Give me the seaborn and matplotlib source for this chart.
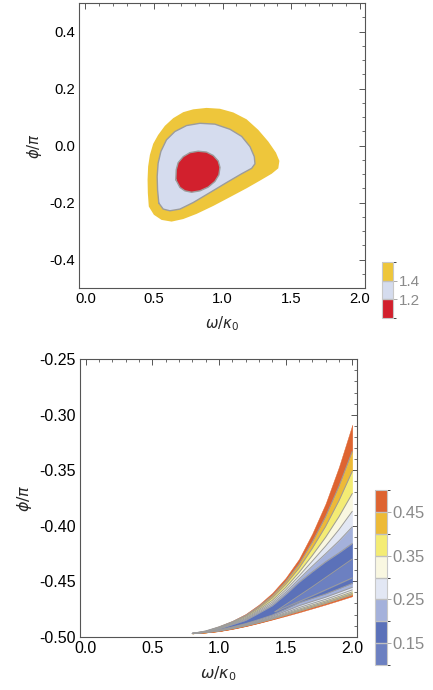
import numpy as np
import matplotlib
matplotlib.use('Agg')
import matplotlib.pyplot as plt
import seaborn as sns
from matplotlib.colors import ListedColormap, BoundaryNorm
from matplotlib.cm import ScalarMappable
from matplotlib.ticker import MultipleLocator, FormatStrFormatter

sns.set_style('white')
plt.rcParams['font.family'] = ['Liberation Sans', 'DejaVu Sans']
plt.rcParams['mathtext.fontset'] = 'dejavusans'

# --- top panel: closed contour outlines (omega/kappa0, phi/pi) ---
outer_x = [0.462, 0.455, 0.453, 0.457, 0.470, 0.494, 0.530, 0.579, 0.640, 0.713, 0.786,
           0.883, 0.981, 1.078, 1.175, 1.260, 1.333, 1.389, 1.414, 1.406, 1.358, 1.273,
           1.175, 1.054, 0.932, 0.810, 0.713, 0.628, 0.555, 0.499]
outer_y = [-0.214, -0.167, -0.120, -0.074, -0.033, 0.006, 0.037, 0.069, 0.096, 0.117, 0.127,
           0.132, 0.129, 0.116, 0.092, 0.055, 0.014, -0.025, -0.054, -0.080, -0.099, -0.123,
           -0.150, -0.181, -0.212, -0.240, -0.258, -0.267, -0.261, -0.243]
mid_x = [0.535, 0.526, 0.523, 0.530, 0.550, 0.591, 0.652, 0.737, 0.835, 0.944, 1.054, 1.139,
         1.200, 1.231, 1.236, 1.212, 1.139, 1.029, 0.908, 0.786, 0.689, 0.616, 0.567]
mid_y = [-0.202, -0.156, -0.109, -0.062, -0.021, 0.020, 0.049, 0.070, 0.078, 0.075, 0.057, 0.032,
         -0.004, -0.039, -0.064, -0.080, -0.099, -0.130, -0.165, -0.200, -0.223, -0.229, -0.223]
inner_x = [0.659, 0.662, 0.676, 0.713, 0.762, 0.822, 0.883, 0.932, 0.968, 0.981, 0.973,
           0.944, 0.895, 0.835, 0.774, 0.725, 0.689]
inner_y = [-0.120, -0.085, -0.060, -0.039, -0.025, -0.020, -0.023, -0.035, -0.054, -0.077,
           -0.103, -0.126, -0.146, -0.159, -0.164, -0.159, -0.147]
top_levels = [1.0, 1.2, 1.4, 1.6]
top_colors = ['#D2202D', '#D5DCEE', '#EEC63B']
top_ticks = [1.2, 1.4]

# --- bottom panel: contour lines sampled at wedge_xs ---
wedge_xs = [0.8, 0.9, 1.0, 1.1, 1.2, 1.3, 1.4, 1.5, 1.6, 1.7, 1.8, 1.9, 2.0]
top_edge = [-0.4970, -0.4945, -0.4905, -0.4857, -0.4795, -0.4710, -0.4605, -0.4470, -0.4300, -0.4070, -0.3800, -0.3470, -0.3090]
up_045 = [-0.4970, -0.4948, -0.4911, -0.4865, -0.4808, -0.4727, -0.4631, -0.4504, -0.4347, -0.4147, -0.3918, -0.3644, -0.3330]
up_040 = [-0.4970, -0.4950, -0.4915, -0.4870, -0.4817, -0.4741, -0.4650, -0.4529, -0.4383, -0.4204, -0.4006, -0.3775, -0.3510]
up_035 = [-0.4970, -0.4952, -0.4919, -0.4876, -0.4828, -0.4755, -0.4672, -0.4557, -0.4422, -0.4268, -0.4104, -0.3919, -0.3710]
up_030 = [-0.4970, -0.4954, -0.4923, -0.4881, -0.4837, -0.4766, -0.4689, -0.4579, -0.4453, -0.4319, -0.4183, -0.4035, -0.3870]
up_025 = [-0.4970, -0.4956, -0.4927, -0.4886, -0.4844, -0.4776, -0.4704, -0.4599, -0.4481, -0.4364, -0.4252, -0.4137, -0.4010]
up_020 = [-0.4970, -0.4957, -0.4930, -0.4891, -0.4852, -0.4787, -0.4720, -0.4620, -0.4510, -0.4415, -0.4325, -0.4245, -0.4160]
lo_020 = [-0.4970, -0.4959, -0.4938, -0.4912, -0.4882, -0.4845, -0.4805, -0.4752, -0.4695, -0.4655, -0.4615, -0.4568, -0.4520]
lo_025 = [-0.4970, -0.4960, -0.4942, -0.4917, -0.4889, -0.4855, -0.4817, -0.4770, -0.4721, -0.4682, -0.4644, -0.4600, -0.4555]
lo_030 = [-0.4970, -0.4960, -0.4944, -0.4920, -0.4894, -0.4861, -0.4825, -0.4783, -0.4738, -0.4700, -0.4663, -0.4621, -0.4578]
lo_035 = [-0.4970, -0.4961, -0.4946, -0.4923, -0.4897, -0.4865, -0.4831, -0.4792, -0.4751, -0.4714, -0.4678, -0.4637, -0.4596]
lo_040 = [-0.4970, -0.4961, -0.4947, -0.4925, -0.4900, -0.4869, -0.4836, -0.4800, -0.4761, -0.4725, -0.4689, -0.4650, -0.4610]
lo_045 = [-0.4970, -0.4962, -0.4949, -0.4927, -0.4902, -0.4873, -0.4841, -0.4806, -0.4771, -0.4735, -0.4700, -0.4661, -0.4622]
bottom_edge = [-0.4970, -0.4962, -0.4950, -0.4930, -0.4905, -0.4876, -0.4845, -0.4813, -0.4780, -0.4745, -0.4710, -0.4673, -0.4635]
# inner region below 0.15
low_x = [1.42, 1.7, 2.0]
low_upper = [-0.4775, -0.4550, -0.4300]
low_lower = [-0.4775, -0.4632, -0.4470]

bot_levels = [0.10, 0.15, 0.20, 0.25, 0.30, 0.35, 0.40, 0.45, 0.50]
bot_colors = ['#6C80C1', '#5B71B9', '#A4B1DB', '#E2E7F4', '#F9F7E1', '#F4EC74', '#EDBA37', '#DE6431']
bot_ticks = [0.15, 0.25, 0.35, 0.45]

line_gray = '#9c9c9c'
frame_col = '#555555'

fig = plt.figure(figsize=(4.33, 6.9), dpi=100)
ax1 = fig.add_axes([0.1824, 0.5826, 0.6605, 0.4130])
ax2 = fig.add_axes([0.1848, 0.0772, 0.6404, 0.4021])
cax1 = fig.add_axes([0.882, 0.5391, 0.0254, 0.0812])
cax2 = fig.add_axes([0.866, 0.0362, 0.0277, 0.2536])

# top contours
ax1.fill(outer_x, outer_y, color=top_colors[2], lw=0)
ax1.fill(mid_x, mid_y, color=top_colors[1], lw=0)
ax1.fill(inner_x, inner_y, color=top_colors[0], lw=0)
for xs, ys in [(mid_x, mid_y), (inner_x, inner_y)]:
    ax1.plot(xs + xs[:1], ys + ys[:1], color=line_gray, lw=1.0)

ax1.set_xlim(-0.047, 2.038)
ax1.set_ylim(-0.5, 0.5)
ax1.xaxis.set_major_locator(MultipleLocator(0.5))
ax1.xaxis.set_minor_locator(MultipleLocator(0.1))
ax1.yaxis.set_major_locator(MultipleLocator(0.2))
ax1.yaxis.set_minor_locator(MultipleLocator(0.05))
ax1.xaxis.set_major_formatter(FormatStrFormatter('%.1f'))
ax1.yaxis.set_major_formatter(FormatStrFormatter('%.1f'))

# bottom contours
bands = [(top_edge, up_045, bot_colors[7]), (up_045, up_040, bot_colors[6]),
         (up_040, up_035, bot_colors[5]), (up_035, up_030, bot_colors[4]),
         (up_030, up_025, bot_colors[3]), (up_025, up_020, bot_colors[2]),
         (up_020, lo_020, bot_colors[1]), (lo_020, lo_025, bot_colors[2]),
         (lo_025, lo_030, bot_colors[3]), (lo_030, lo_035, bot_colors[4]),
         (lo_035, lo_040, bot_colors[5]), (lo_040, lo_045, bot_colors[6]),
         (lo_045, bottom_edge, bot_colors[7])]
for hi, lo, c in bands:
    ax2.fill_between(wedge_xs, hi, lo, color=c, lw=0.3, edgecolor=c)
ax2.fill_between(low_x, low_upper, low_lower, color=bot_colors[0], lw=0.3, edgecolor=bot_colors[0])

for ys in [up_045, up_040, up_035, up_030, up_025, up_020,
           lo_020, lo_025, lo_030, lo_035, lo_040, lo_045]:
    sns.lineplot(x=wedge_xs, y=ys, ax=ax2, color=line_gray, lw=0.7, sort=False, estimator=None)
sns.lineplot(x=low_x, y=low_upper, ax=ax2, color=line_gray, lw=0.7, sort=False, estimator=None)
sns.lineplot(x=low_x, y=low_lower, ax=ax2, color=line_gray, lw=0.7, sort=False, estimator=None)

ax2.set_xlim(-0.043, 2.038)
ax2.set_ylim(-0.5, -0.25)
ax2.xaxis.set_major_locator(MultipleLocator(0.5))
ax2.xaxis.set_minor_locator(MultipleLocator(0.1))
ax2.yaxis.set_major_locator(MultipleLocator(0.05))
ax2.yaxis.set_minor_locator(MultipleLocator(0.01))
ax2.xaxis.set_major_formatter(FormatStrFormatter('%.1f'))
ax2.yaxis.set_major_formatter(FormatStrFormatter('%.2f'))

for ax, fs in ((ax1, 10.7), (ax2, 11.5)):
    ax.set_xlabel(r'$\omega/\kappa_0$', fontsize=fs, labelpad=6)
    ax.set_ylabel(r'$\phi/\pi$', fontsize=fs, labelpad=4)
    ax.tick_params(which='both', direction='in', top=True, right=True,
                   color=frame_col, labelsize=fs, labelcolor='black')
    ax.tick_params(which='major', length=4, width=0.7, pad=3)
    ax.tick_params(which='minor', length=2, width=0.6)
    for s in ax.spines.values():
        s.set_color(frame_col)
        s.set_linewidth(0.8)

# colour legends
for cax, levels, colors, ticks, fmt, fs in [(cax1, top_levels, top_colors, top_ticks, '%.1f', 11),
                                             (cax2, bot_levels, bot_colors, bot_ticks, '%.2f', 12)]:
    norm = BoundaryNorm(levels, len(colors))
    sm = ScalarMappable(norm=norm, cmap=ListedColormap(colors))
    cb = fig.colorbar(sm, cax=cax, ticks=ticks, format=fmt, drawedges=True)
    cb.outline.set_edgecolor('#c8c8c8')
    cb.outline.set_linewidth(0.8)
    cb.dividers.set_color('#c0c0c0')
    cb.dividers.set_linewidth(1.0)
    cax.tick_params(length=3, width=0.7, color='#aaaaaa', labelcolor='#8a8a8a',
                    labelsize=fs, pad=1)

fig.savefig('out.png', dpi=100)
